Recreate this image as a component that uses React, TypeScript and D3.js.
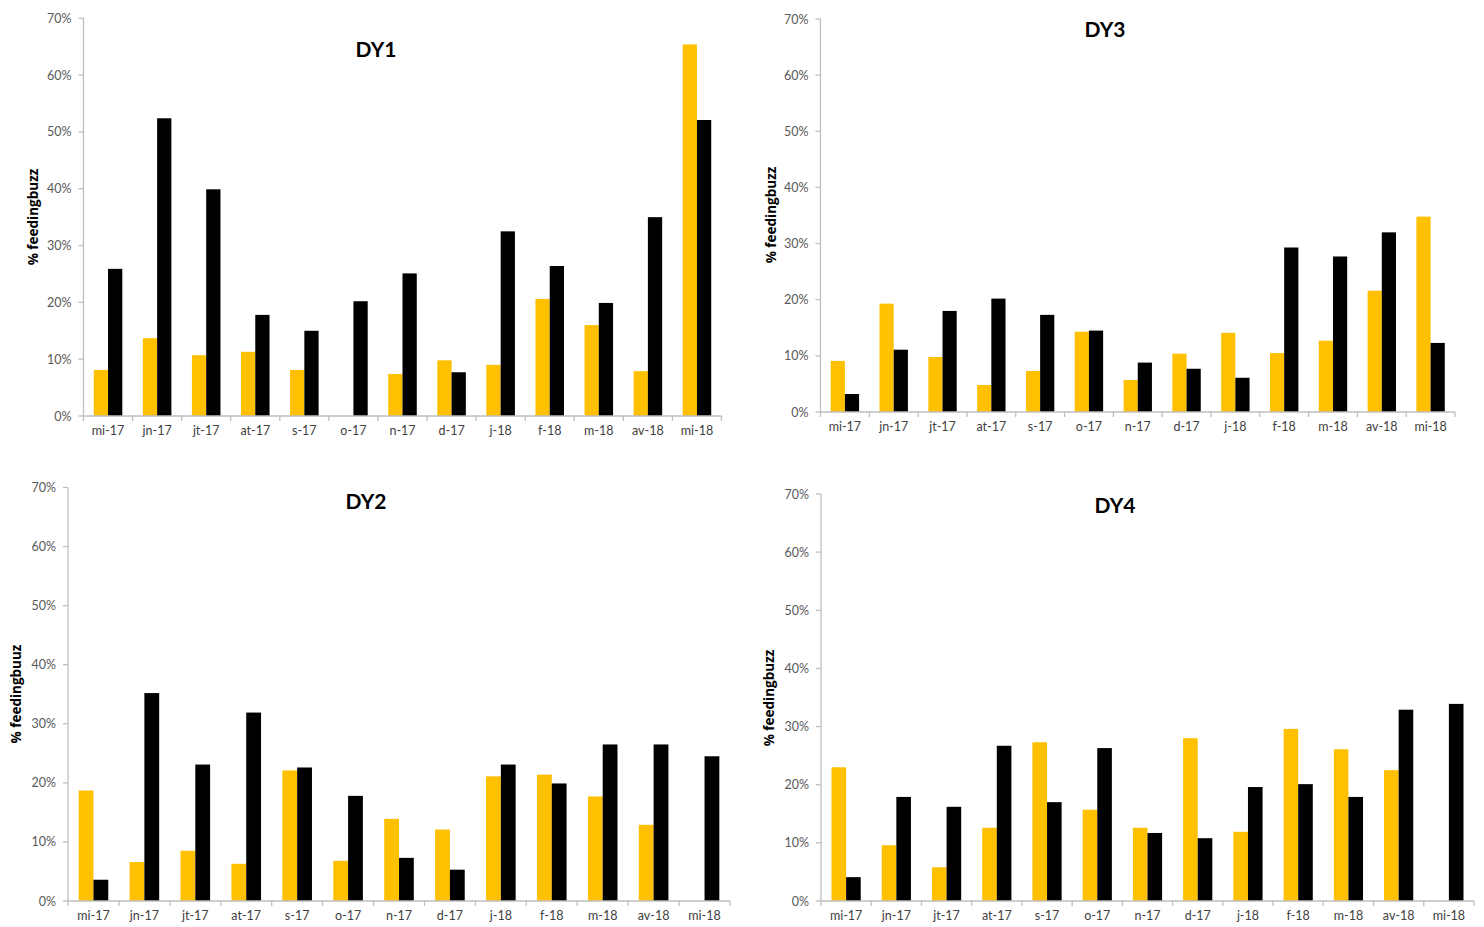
import React from "react";
import * as d3 from "d3";

// Month codes on the x axis (May 2017 – May 2018)
const months = ["mi-17", "jn-17", "jt-17", "at-17", "s-17", "o-17", "n-17", "d-17", "j-18", "f-18", "m-18", "av-18", "mi-18"];

// % feeding buzz, yellow series and black series for each site
const dy1Yellow = [8.1, 13.7, 10.7, 11.3, 8.1, 0, 7.4, 9.8, 9.0, 20.6, 16.0, 7.9, 65.4];
const dy1Black = [25.9, 52.4, 39.9, 17.8, 15.0, 20.2, 25.1, 7.7, 32.5, 26.4, 19.9, 35.0, 52.1];

const dy3Yellow = [9.1, 19.3, 9.8, 4.8, 7.3, 14.3, 5.7, 10.4, 14.1, 10.5, 12.7, 21.6, 34.8];
const dy3Black = [3.2, 11.1, 18.0, 20.2, 17.3, 14.5, 8.8, 7.7, 6.1, 29.3, 27.7, 32.0, 12.3];

const dy2Yellow = [18.7, 6.6, 8.5, 6.3, 22.1, 6.8, 13.9, 12.1, 21.1, 21.4, 17.7, 12.9, 0];
const dy2Black = [3.6, 35.2, 23.1, 31.9, 22.6, 17.8, 7.3, 5.3, 23.1, 19.9, 26.5, 26.5, 24.5];

const dy4Yellow = [23.0, 9.6, 5.8, 12.6, 27.3, 15.7, 12.6, 28.0, 11.9, 29.6, 26.1, 22.5, 0];
const dy4Black = [4.1, 17.9, 16.2, 26.7, 17.0, 26.3, 11.7, 10.8, 19.6, 20.1, 17.9, 32.9, 33.9];

const yTickValues = [0, 10, 20, 30, 40, 50, 60, 70];
const seriesKeys = ["yellow", "black"];
const seriesColors: Record<string, string> = { yellow: "#FFC000", black: "#000000" };

interface PanelSpec {
  title: string;
  ylabel: string;
  yellow: number[];
  black: number[];
  left: number;
  right: number;
  top: number;
  bottom: number;
  titleX: number;
  titleY: number;
  labX: number;
  labY: number;
}

const panels: PanelSpec[] = [
  { title: "DY1", ylabel: "% feedingbuzz", yellow: dy1Yellow, black: dy1Black,
    left: 83.5, right: 721.5, top: 18.3, bottom: 416, titleX: 376, titleY: 57, labX: 33, labY: 217 },
  { title: "DY3", ylabel: "% feedingbuzz", yellow: dy3Yellow, black: dy3Black,
    left: 820.5, right: 1455, top: 19, bottom: 412, titleX: 1105, titleY: 37, labX: 771, labY: 215 },
  { title: "DY2", ylabel: "% feedingbuuz", yellow: dy2Yellow, black: dy2Black,
    left: 68, right: 730, top: 487.5, bottom: 901, titleX: 366, titleY: 509, labX: 16, labY: 694 },
  { title: "DY4", ylabel: "% feedingbuzz", yellow: dy4Yellow, black: dy4Black,
    left: 821, right: 1474, top: 494, bottom: 901, titleX: 1115, titleY: 513, labX: 769, labY: 698 },
];

const axisColor = "#BFBFBF";
const font = "Lato, 'Open Sans', Arial, sans-serif";

function Panel({ p }: { p: PanelSpec }) {
  const x = d3.scaleBand<string>().domain(months).range([p.left, p.right]).padding(0);
  const xs = d3
    .scaleBand<string>()
    .domain(seriesKeys)
    .range([0, x.bandwidth()])
    .paddingInner(0)
    .paddingOuter(0.72);
  const y = d3.scaleLinear().domain([0, 70]).range([p.bottom, p.top]);
  const fmt = (v: number) => `${v}%`;

  const boundaries = months.map((m) => x(m) as number).concat([p.right]);

  return (
    <g>
      {/* bars */}
      {months.map((m, i) => (
        <g key={m} transform={`translate(${x(m)},0)`}>
          {seriesKeys.map((k) => {
            const v = (k === "yellow" ? p.yellow : p.black)[i];
            if (!v) return null;
            return (
              <rect
                key={k}
                x={xs(k)}
                y={y(v)}
                width={xs.bandwidth()}
                height={y(0) - y(v)}
                fill={seriesColors[k]}
              />
            );
          })}
        </g>
      ))}

      {/* y axis */}
      <line x1={p.left} x2={p.left} y1={y(70)} y2={y(0)} stroke={axisColor} strokeWidth={1.3} />
      {yTickValues.map((t) => (
        <g key={t}>
          <line x1={p.left - 5} x2={p.left} y1={y(t)} y2={y(t)} stroke={axisColor} strokeWidth={1.3} />
          <text
            x={p.left - 12}
            y={y(t)}
            dy="0.36em"
            textAnchor="end"
            fontFamily={font}
            fontSize={12.5}
            fill="#595959"
          >
            {fmt(t)}
          </text>
        </g>
      ))}

      {/* x axis */}
      <line x1={p.left} x2={p.right} y1={y(0)} y2={y(0)} stroke={axisColor} strokeWidth={1.3} />
      {boundaries.map((bx, i) => (
        <line key={i} x1={bx} x2={bx} y1={y(0)} y2={y(0) + 5} stroke={axisColor} strokeWidth={1.3} />
      ))}
      {months.map((m) => (
        <text
          key={m}
          x={(x(m) as number) + x.bandwidth() / 2}
          y={y(0) + 19}
          textAnchor="middle"
          fontFamily={font}
          fontSize={12.5}
          fill="#404040"
        >
          {m}
        </text>
      ))}

      {/* title */}
      <text
        x={p.titleX}
        y={p.titleY}
        textAnchor="middle"
        fontFamily={font}
        fontWeight="bold"
        fontSize={21}
        fill="#000"
      >
        {p.title}
      </text>

      {/* y axis label */}
      <text
        transform={`translate(${p.labX},${p.labY}) rotate(-90)`}
        textAnchor="middle"
        dy="0.35em"
        fontFamily="'Open Sans', Arial, sans-serif"
        fontWeight="bold"
        fontSize={13.5}
        fill="#000"
      >
        {p.ylabel}
      </text>
    </g>
  );
}

export default function App() {
  return (
    <svg
      width={1484}
      height={927}
      viewBox="0 0 1484 927"
      style={{ position: "absolute", left: 0, top: 0, background: "#fff" }}
    >
      <rect width={1484} height={927} fill="#fff" />
      {panels.map((p) => (
        <Panel key={p.title} p={p} />
      ))}
    </svg>
  );
}
